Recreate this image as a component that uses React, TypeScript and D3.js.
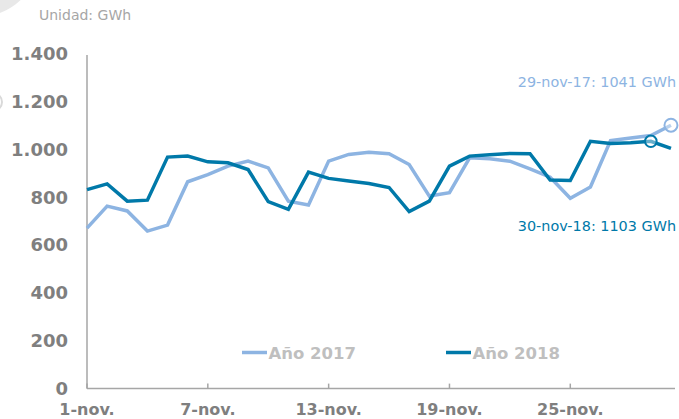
import { useRef, useEffect } from "react";
import { select, scaleLinear, line, formatLocale } from "d3";

const days = [
  1, 2, 3, 4, 5, 6, 7, 8, 9, 10, 11, 12, 13, 14, 15, 16, 17, 18, 19, 20, 21,
  22, 23, 24, 25, 26, 27, 28, 29, 30,
];
const values2017 = [
  670, 762, 742, 658, 683, 864, 894, 929, 950, 922, 783, 767, 950, 978, 987,
  981, 936, 804, 818, 964, 960, 950, 918, 883, 795, 842, 1036, 1047, 1057,
  1100,
];
const values2018 = [
  831, 855, 783, 787, 967, 971, 947, 943, 915, 781, 749, 904, 878, 867, 857,
  840, 739, 783, 929, 971, 977, 982, 981, 871, 869, 1033, 1024, 1027, 1033,
  1003,
];
const yTicks = [0, 200, 400, 600, 800, 1000, 1200, 1400];
const xTickDays = [1, 7, 13, 19, 25];
const xTickLabels = ["1-nov.", "7-nov.", "13-nov.", "19-nov.", "25-nov."];
const seriesNames = ["Año 2017", "Año 2018"];
// highlighted points: day + label text
const marker2017 = { day: 30, label: "29-nov-17: 1041 GWh" };
const marker2018 = { day: 29, label: "30-nov-18: 1103 GWh" };

const LIGHT = "#8db4e2";
const DARK = "#0079a9";
const AXIS = "#a6a6a6";

const es = formatLocale({
  decimal: ",",
  thousands: ".",
  grouping: [3],
  currency: ["", ""],
});
const fmt = es.format(",");

export default function App() {
  const svgRef = useRef(null);

  useEffect(() => {
    const svg = select(svgRef.current);
    svg.selectAll("*").remove();

    const x = scaleLinear().domain([1, 30.2]).range([87, 675]);
    const y = scaleLinear().domain([0, 1400]).range([388.6, 53.4]);

    // decorative bits in the corner
    svg.append("circle").attr("cx", -22).attr("cy", -45).attr("r", 62).attr("fill", "#e8e8e8");
    svg
      .append("circle")
      .attr("cx", -7)
      .attr("cy", 102)
      .attr("r", 9)
      .attr("fill", "none")
      .attr("stroke", "#d9d9d9")
      .attr("stroke-width", 2);

    svg
      .append("text")
      .attr("x", 39)
      .attr("y", 20)
      .attr("font-family", "DejaVu Sans")
      .attr("font-size", 14)
      .attr("fill", "#a6a6a6")
      .text("Unidad: GWh");

    //// axes ////
    svg
      .append("line")
      .attr("x1", x(1))
      .attr("x2", x(1))
      .attr("y1", 55)
      .attr("y2", y(0))
      .attr("stroke", AXIS)
      .attr("stroke-width", 1.5);
    svg
      .append("line")
      .attr("x1", x(1))
      .attr("x2", 675)
      .attr("y1", y(0))
      .attr("y2", y(0))
      .attr("stroke", AXIS)
      .attr("stroke-width", 1.5);

    svg
      .selectAll(".x-tick")
      .data(xTickDays)
      .join("line")
      .attr("class", "x-tick")
      .attr("x1", (d) => x(d))
      .attr("x2", (d) => x(d))
      .attr("y1", y(0))
      .attr("y2", y(0) - 5)
      .attr("stroke", AXIS)
      .attr("stroke-width", 1.5);

    svg
      .selectAll(".x-label")
      .data(xTickDays)
      .join("text")
      .attr("class", "x-label")
      .attr("x", (d) => x(d))
      .attr("y", 415)
      .attr("text-anchor", "middle")
      .attr("font-family", "DejaVu Sans")
      .attr("font-weight", "bold")
      .attr("font-size", 16)
      .attr("fill", "#7f7f7f")
      .text((d, i) => xTickLabels[i]);

    svg
      .selectAll(".y-label")
      .data(yTicks)
      .join("text")
      .attr("class", "y-label")
      .attr("x", 68)
      .attr("y", (d) => y(d) + 6.5)
      .attr("text-anchor", "end")
      .attr("font-family", "DejaVu Sans")
      .attr("font-weight", "bold")
      .attr("font-size", 18)
      .attr("fill", "#7f7f7f")
      .text((d) => fmt(d));

    //// lines ////
    const lineGen = line()
      .x((d) => x(d[0]))
      .y((d) => y(d[1]));

    const series = [
      { values: values2017, color: LIGHT },
      { values: values2018, color: DARK },
    ];
    series.forEach((s) => {
      svg
        .append("path")
        .attr("d", lineGen(days.map((d, i) => [d, s.values[i]])))
        .attr("fill", "none")
        .attr("stroke", s.color)
        .attr("stroke-width", 3.5)
        .attr("stroke-linejoin", "miter");
    });

    //// highlighted points ////
    const marks = [
      { m: marker2017, values: values2017, color: LIGHT, r: 6.5, ly: 87 },
      { m: marker2018, values: values2018, color: DARK, r: 5.8, ly: 231 },
    ];
    marks.forEach((k) => {
      const v = k.values[days.indexOf(k.m.day)];
      svg
        .append("circle")
        .attr("cx", x(k.m.day))
        .attr("cy", y(v))
        .attr("r", k.r)
        .attr("fill", "rgba(255,255,255,0.4)")
        .attr("stroke", k.color)
        .attr("stroke-width", 2);
      svg
        .append("text")
        .attr("x", 676)
        .attr("y", k.ly)
        .attr("text-anchor", "end")
        .attr("font-family", "DejaVu Sans")
        .attr("font-size", 14.4)
        .attr("fill", k.color)
        .text(k.m.label);
    });

    //// legend ////
    const legendX = [242, 446];
    seriesNames.forEach((name, i) => {
      svg
        .append("line")
        .attr("x1", legendX[i])
        .attr("x2", legendX[i] + 25)
        .attr("y1", 352.5)
        .attr("y2", 352.5)
        .attr("stroke", series[i].color)
        .attr("stroke-width", 3.5);
      svg
        .append("text")
        .attr("x", legendX[i] + 26.5)
        .attr("y", 358.6)
        .attr("font-family", "DejaVu Sans")
        .attr("font-weight", "bold")
        .attr("font-size", 16.5)
        .attr("fill", "#bfbfbf")
        .text(name);
    });
  }, []);

  return (
    <svg
      ref={svgRef}
      width={679}
      height={419}
      style={{ position: "absolute", left: 0, top: 0, background: "#fff" }}
    />
  );
}
